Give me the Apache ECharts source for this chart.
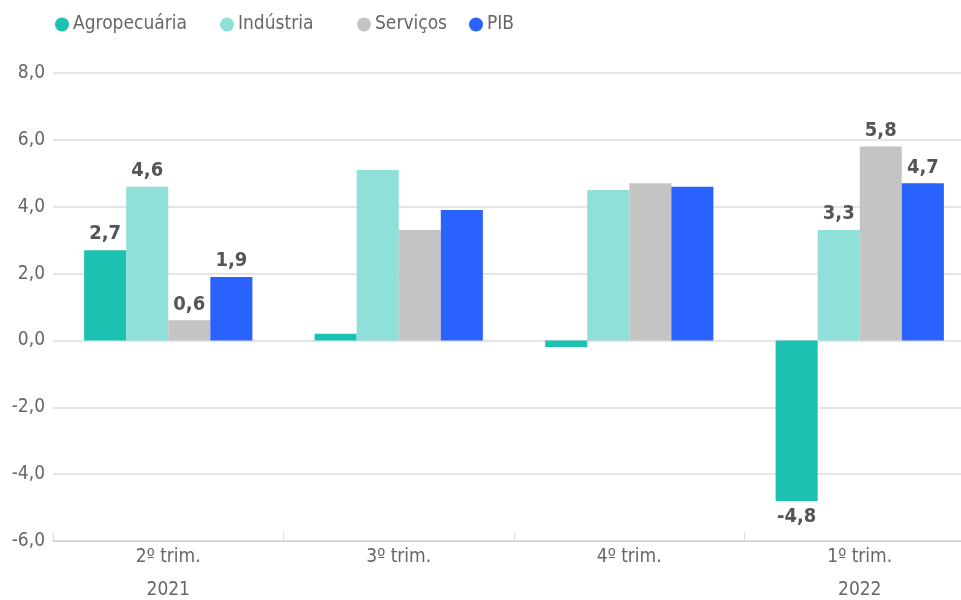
<!DOCTYPE html>
<html><head><meta charset="utf-8">
<script src="https://cdn.jsdelivr.net/npm/echarts@6/dist/echarts.min.js"></script>
<style>html,body{margin:0;padding:0;background:#fff}#c{width:961px;height:600px}</style>
</head><body><div id="c"></div>
<script>
const categories = ['2º trim.\n2021', '3º trim.', '4º trim.', '1º trim.\n2022'];
const seriesNames = ['Agropecuária', 'Indústria', 'Serviços', 'PIB'];
const agro = [2.7, 0.2, -0.2, -4.8];
const industria = [4.6, 5.1, 4.5, 3.3];
const servicos = [0.6, 3.3, 4.7, 5.8];
const pib = [1.9, 3.9, 4.6, 4.7];
const labeledGroups = [0, 3];
const colors = ['#1CC1B1', '#90E0DA', '#C4C4C4', '#2962FF'];
const legendLefts = [50, 215, 352, 464];
const FONT = "'DejaVu Sans Condensed', 'Liberation Sans Narrow', sans-serif";
const fmt = v => v.toFixed(1).replace('.', ',');

function mk(name, vals, color) {
  return {
    name, type: 'bar', barGap: '0%', barCategoryGap: '27%',
    itemStyle: { color },
    data: vals.map((v, i) => ({
      value: v,
      label: {
        show: labeledGroups.includes(i),
        position: v < 0 ? 'bottom' : 'top',
        formatter: p => fmt(p.value),
        fontFamily: FONT, fontWeight: 'bold', fontSize: 20, color: '#555', distance: 6
      }
    }))
  };
}
const chart = echarts.init(document.getElementById('c'));
chart.setOption({
  animation: false,
  textStyle: { fontFamily: FONT },
  legend: seriesNames.map((n, i) => ({
    data: [n], left: legendLefts[i], top: 10, icon: 'circle', itemWidth: 14, itemHeight: 14,
    textStyle: { fontFamily: FONT, fontSize: 19, color: '#666', padding: [0, 0, 0, -1] }
  })),
  grid: { left: 53, right: -14, top: 73, bottom: 59, containLabel: false, outerBoundsMode: 'none' },
  xAxis: {
    type: 'category', data: categories,
    axisLine: { onZero: false, lineStyle: { color: '#ccc', width: 1 } },
    axisTick: { show: true, inside: true, length: 9, lineStyle: { color: '#ddd' } },
    axisLabel: { fontFamily: FONT, fontSize: 19, color: '#666', lineHeight: 33, margin: 0 }
  },
  yAxis: {
    type: 'value', min: -6, max: 8, interval: 2,
    axisLabel: { formatter: v => fmt(v), fontFamily: FONT, fontSize: 19, color: '#666', margin: 8 },
    splitLine: { lineStyle: { color: '#ddd', width: 1.5 } },
    axisLine: { show: false }, axisTick: { show: false }
  },
  series: [
    mk(seriesNames[0], agro, colors[0]),
    mk(seriesNames[1], industria, colors[1]),
    mk(seriesNames[2], servicos, colors[2]),
    mk(seriesNames[3], pib, colors[3])
  ]
});
</script></body></html>
